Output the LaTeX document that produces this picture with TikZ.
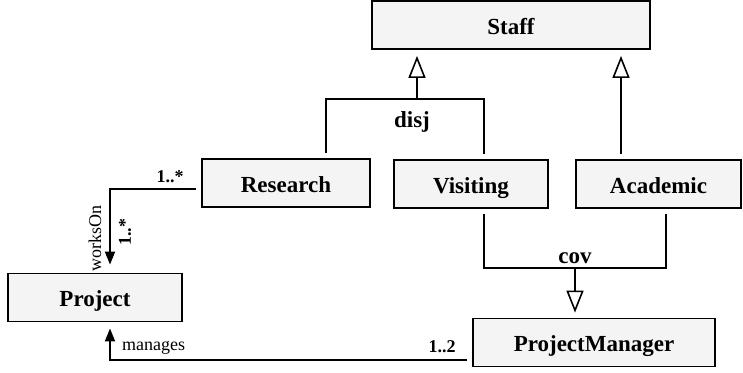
\documentclass[tikz,border=0pt]{standalone}
\usepackage{fontspec}
\setmainfont{Liberation Serif}
\usetikzlibrary{arrows.meta}
\definecolor{boxgray}{HTML}{F4F4F4}
\tikzset{
	classbox/.style={draw, fill=boxgray, line width=1.8pt, inner sep=0pt, minimum height=48pt, text height=18pt, text depth=0pt, font=\fontsize{23}{27}\selectfont\bfseries},
	conn/.style={line width=1.8pt},
	gen/.style={conn, -{Triangle[open, length=22pt, width=17pt, line width=1.6pt]}},
	assoc/.style={conn, -{Triangle[length=13pt, width=10pt]}},
	biglbl/.style={inner sep=0pt, font=\fontsize{23}{27}\selectfont\bfseries},
	smalllbl/.style={inner sep=0pt, font=\fontsize{18}{21}\selectfont}
}
\begin{document}
\begin{tikzpicture}[x=1pt, y=-1pt]
		\useasboundingbox (0, 0) rectangle (743, 372);
		
		\node[classbox, minimum width=278pt] (staff) at (511, 25) {Staff};
		\node[classbox, minimum width=168pt] (research) at (286, 183) {Research};
		\node[classbox, minimum width=154pt] (visiting) at (471, 184) {Visiting};
		\node[classbox, minimum width=165pt] (academic) at (658.5, 184) {Academic};
		\node[classbox, minimum width=174pt] (project) at (95, 297.5) {Project};
		\node[classbox, minimum width=242pt] (manager) at (594, 342.5) {ProjectManager};
		
		\coordinate (disj) at (417, 99);
		\coordinate (acad) at ([xshift=-37.5pt, yshift=5pt]academic.north);
		\coordinate (cov) at (575, 268);
		\coordinate (works) at (110, 189);
		\coordinate (manages) at (110, 360);
		
		\draw[conn] ([xshift=40pt, yshift=5pt]research.north) |- (disj) -| ([xshift=13pt, yshift=5pt]visiting.north);
		\draw[gen] (disj) -- ([yshift=-6pt]staff.south -| disj);
		\draw[gen] (acad) -- ([yshift=-6pt]staff.south -| acad);
		
		\draw[conn] ([xshift=13pt, yshift=-5pt]visiting.south) |- (cov) -| ([xshift=7.5pt, yshift=-5pt]academic.south);
		\draw[gen] (cov) -- ([yshift=5pt]manager.north -| cov);
		
		\draw[assoc] ([xshift=-5pt, yshift=-6pt]research.west) -- (works) -- ([yshift=8pt]project.north -| works);
		\draw[assoc] ([xshift=-5pt, yshift=-17.5pt]manager.west) -- (manages) -- ([yshift=-6pt]project.south -| manages);
		
		\node[biglbl] (disjlbl) at (412, 122) {disj};
		\node[biglbl] (covlbl) at (575, 258) {cov};
		\node[smalllbl, font=\fontsize{18}{21}\selectfont\bfseries] (multa) at (170, 177) {1..*};
		\node[smalllbl, rotate=90] (workslbl) at (95, 238) {worksOn};
		\node[smalllbl, font=\fontsize{18}{21}\selectfont\bfseries, rotate=90] (multb) at (125, 232) {1..*};
		\node[smalllbl, anchor=west] (manageslbl) at (122, 348) {manages};
		\node[smalllbl, font=\fontsize{18}{21}\selectfont\bfseries] (multc) at (442, 347) {1..2};
	\end{tikzpicture}
\end{document}
